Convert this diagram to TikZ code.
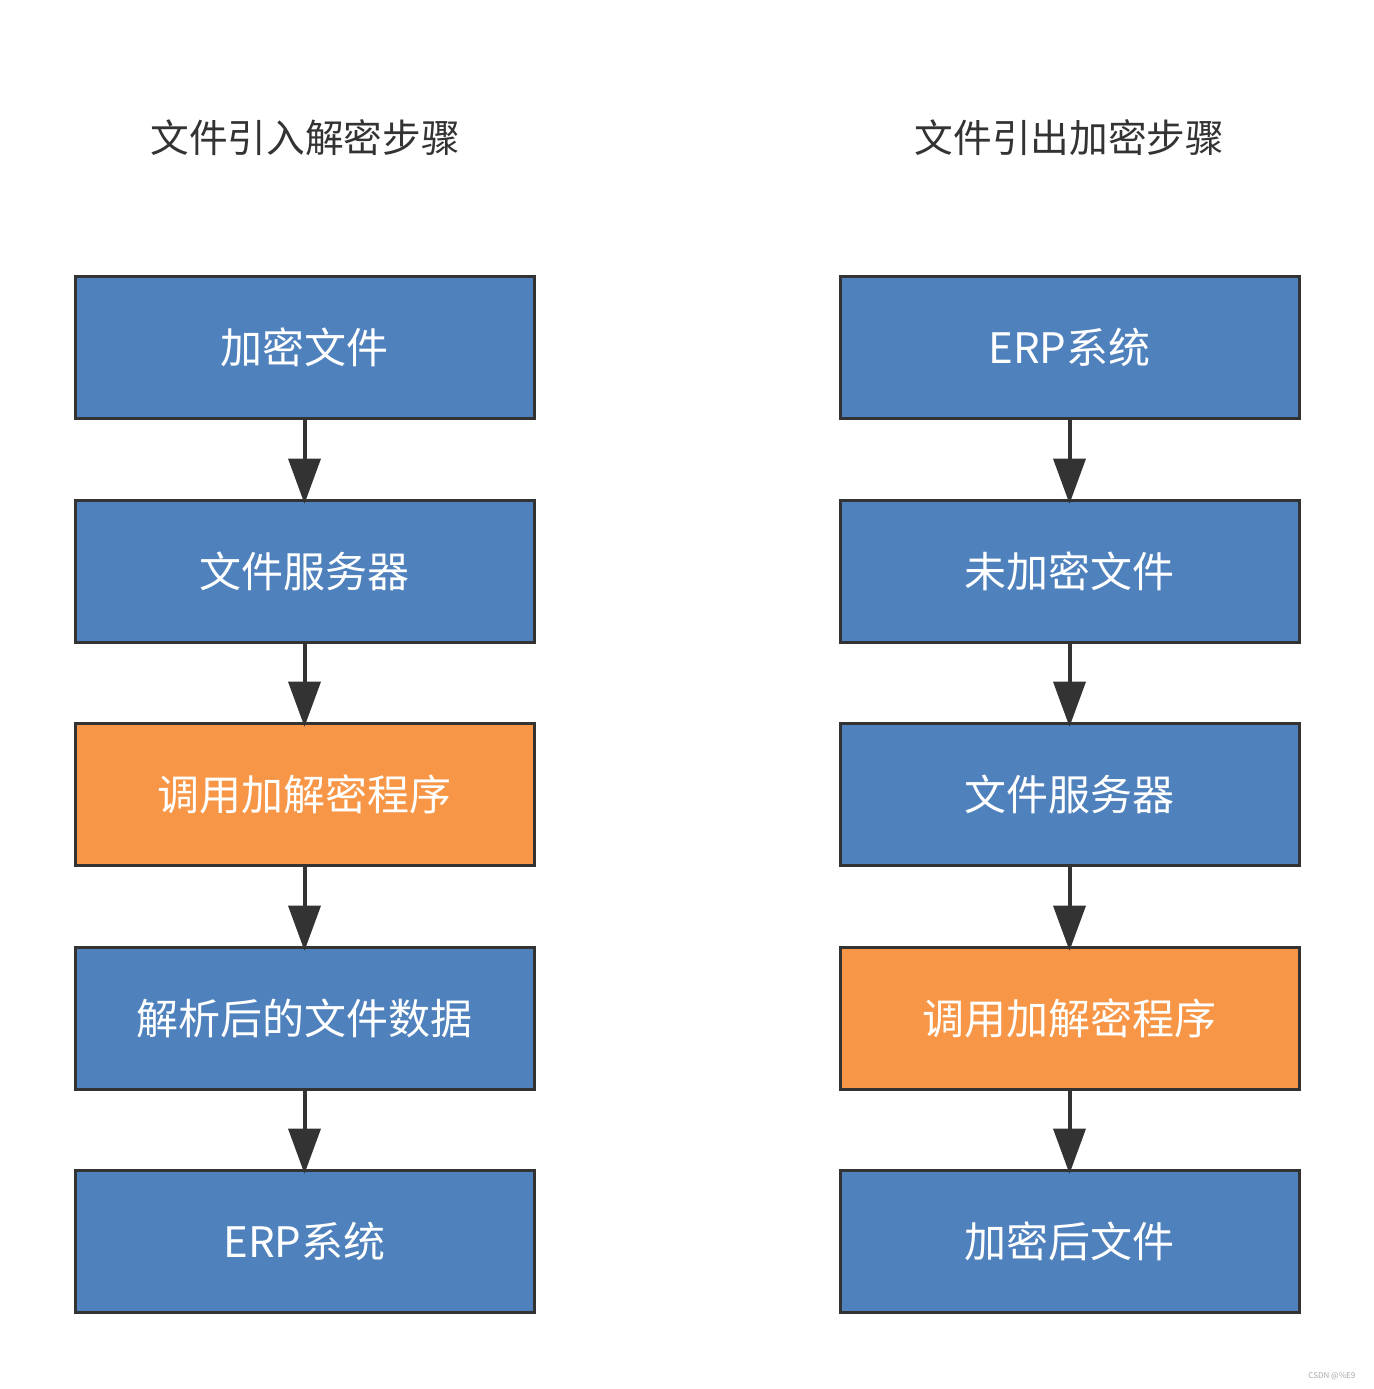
\documentclass[tikz,border=0pt]{standalone}
\usepackage{fontspec}
\setmainfont{Noto Sans CJK SC}
\usetikzlibrary{arrows.meta}
\definecolor{boxblue}{HTML}{4F81BD}
\definecolor{boxorange}{HTML}{F79646}
\definecolor{edge}{HTML}{333333}
\begin{document}
\begin{tikzpicture}[x=0.75pt,y=-0.75pt,
  stepbox/.style={draw=edge, line width=2.25pt, minimum width=459*0.75pt, minimum height=142*0.75pt, inner sep=0pt, text=white, font=\fontsize{31.5pt}{36pt}\selectfont, fill=boxblue},
  hot/.style={fill=boxorange},
  flow/.style={draw=edge, line width=3pt, -{Triangle[width=24pt,length=34pt]}, shorten >=-4pt},
  heading/.style={text=edge, font=\fontsize{29pt}{34pt}\selectfont}]
\fill[white] (0,0) rectangle (1374,1389);
\useasboundingbox (0,0) rectangle (1374,1389);
\node[heading] (t1) at (305,138) {文件引入解密步骤};
\node[heading] (t2) at (1069.5,138) {文件引出加密步骤};
% left column
\node[stepbox] (l1) at (304.5,347) {加密文件};
\node[stepbox] (l2) at (304.5,571) {文件服务器};
\node[stepbox,hot] (l3) at (304.5,794) {调用加解密程序};
\node[stepbox] (l4) at (304.5,1018) {解析后的文件数据};
\node[stepbox] (l5) at (304.5,1241) {ERP系统};
% right column
\node[stepbox] (r1) at (1069.5,347) {ERP系统};
\node[stepbox] (r2) at (1069.5,571) {未加密文件};
\node[stepbox] (r3) at (1069.5,794) {文件服务器};
\node[stepbox,hot] (r4) at (1069.5,1018) {调用加解密程序};
\node[stepbox] (r5) at (1069.5,1241) {加密后文件};
\foreach \a/\b in {l1/l2,l2/l3,l3/l4,l4/l5,r1/r2,r2/r3,r3/r4,r4/r5}
  \draw[flow] (\a.south) -- (\b.north);
\node[text=gray!70, font=\fontsize{6pt}{7pt}\selectfont, anchor=east] (wm) at (1360,1376) {CSDN @\%E9};
\end{tikzpicture}
\end{document}
